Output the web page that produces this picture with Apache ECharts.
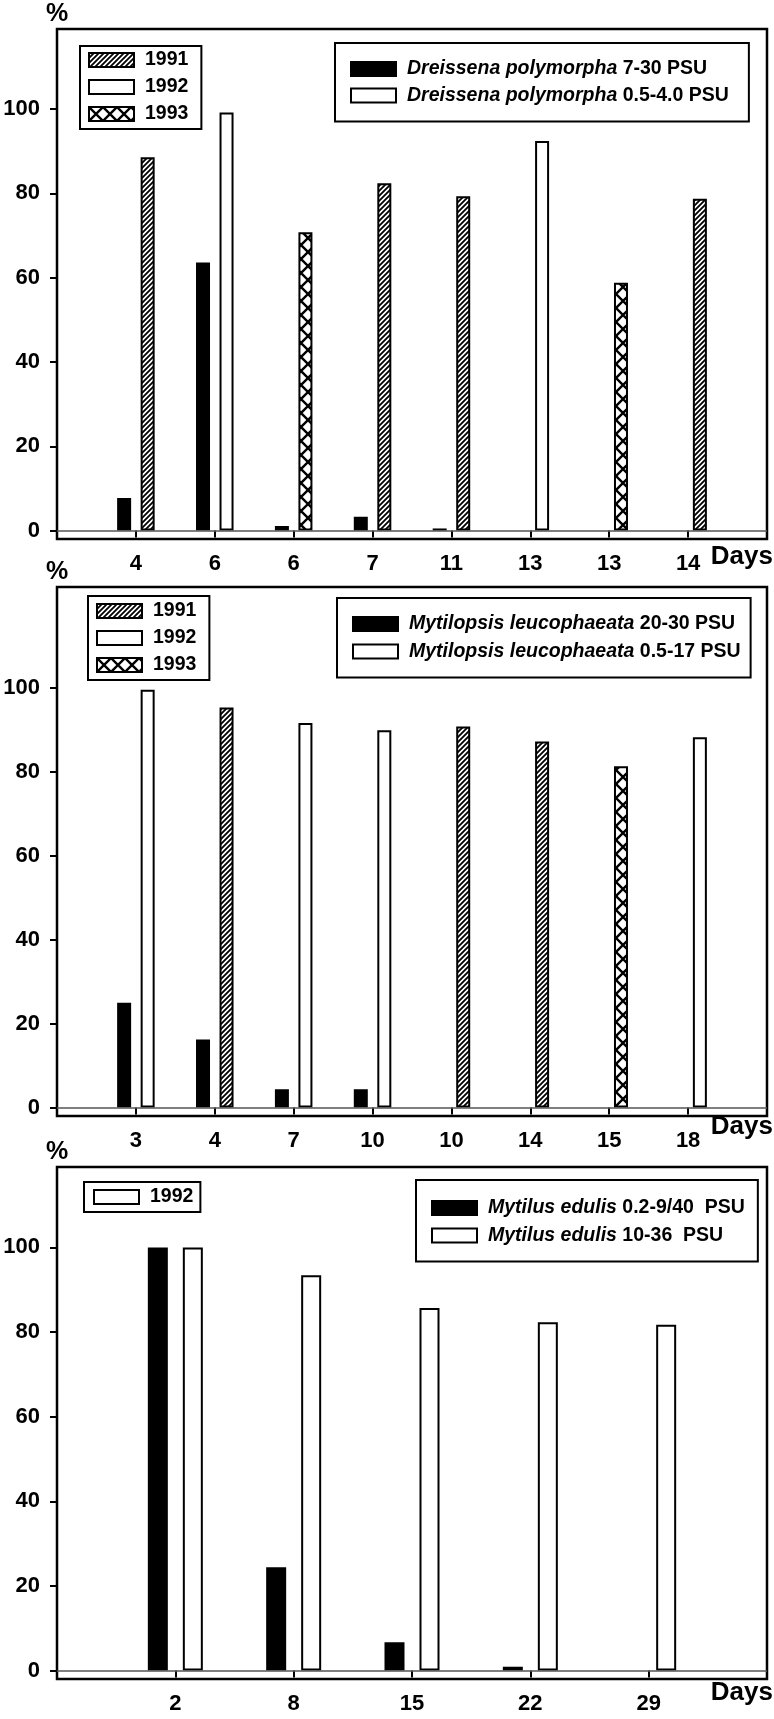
<!DOCTYPE html>
<html>
<head>
<meta charset="utf-8">
<script src="https://cdn.jsdelivr.net/npm/echarts@6/dist/echarts.min.js"></script>
<style>
  html, body { margin: 0; padding: 0; background: #fff; }
  #main { width: 774px; height: 1719px; }
</style>
</head>
<body>
<div id="main"></div>
<script>
// panel 1 - Dreissena polymorpha
const days1 = ['4', '6', '6', '7', '11', '13', '13', '14'];
const black1 = [7.7, 63.6, 1.1, 3.3, 0.5, null, null, null];
const other1 = [88.6, 99.2, 70.8, 82.4, 79.3, 92.4, 58.8, 78.7];
const year1 = ['1991', '1992', '1993', '1991', '1991', '1992', '1993', '1991'];

// panel 2 - Mytilopsis leucophaeata
const days2 = ['3', '4', '7', '10', '10', '14', '15', '18'];
const black2 = [25, 16.2, 4.4, 4.4, null, null, null, null];
const other2 = [99.5, 95.3, 91.6, 89.9, 90.8, 87.2, 81.3, 88.2];
const year2 = ['1992', '1991', '1992', '1992', '1991', '1991', '1993', '1992'];

// panel 3 - Mytilus edulis
const days3 = ['2', '8', '15', '22', '29'];
const black3 = [100, 24.4, 6.7, 0.9, null];
const other3 = [100, 93.4, 85.7, 82.3, 81.7];
const year3 = ['1992', '1992', '1992', '1992', '1992'];

const yTicks = [0, 20, 40, 60, 80, 100];
const FONT = "'Liberation Sans', Arial, Helvetica, sans-serif";

// axis text in the original is a condensed bold face; use it if the box has one
function textWidth(font) {
  const g = document.createElement('canvas').getContext('2d');
  g.font = font;
  return g.measureText('100 Days').width;
}
const hasNarrow = textWidth("bold 50px 'Liberation Sans Narrow', monospace") !== textWidth('bold 50px monospace');
const AXIS_FONT = hasNarrow ? "'Liberation Sans Narrow', 'Liberation Sans', sans-serif" : FONT;
const tickSize = hasNarrow ? 25 : 22;
const daysSize = hasNarrow ? 30 : 26;

function hatch() {
  const p = 5;
  const c = document.createElement('canvas');
  c.width = p; c.height = p;
  const g = c.getContext('2d');
  g.fillStyle = '#fff';
  g.fillRect(0, 0, p, p);
  g.strokeStyle = '#000';
  g.lineWidth = 1.8;
  g.beginPath();
  g.moveTo(-1, p + 1); g.lineTo(p + 1, -1);
  g.moveTo(-1, 1); g.lineTo(1, -1);
  g.moveTo(p - 1, p + 1); g.lineTo(p + 1, p - 1);
  g.stroke();
  return c;
}

function cross() {
  const p = 14;
  const c = document.createElement('canvas');
  c.width = p; c.height = p;
  const g = c.getContext('2d');
  g.fillStyle = '#fff';
  g.fillRect(0, 0, p, p);
  g.strokeStyle = '#000';
  g.lineWidth = 2.4;
  g.beginPath();
  g.moveTo(-1, -1); g.lineTo(p + 1, p + 1);
  g.moveTo(-1, p + 1); g.lineTo(p + 1, -1);
  g.stroke();
  return c;
}

const yearFill = {
  '1991': { image: hatch(), repeat: 'repeat' },
  '1992': '#fff',
  '1993': { image: cross(), repeat: 'repeat' }
};

const pad = arr => [null, ...arr, null];
const border = { borderColor: '#000', borderWidth: 2 };

function panelSeries(k, black, other, years, blackName, whiteName, bw, gap) {
  const list = [{
    name: blackName,
    type: 'bar',
    xAxisIndex: k,
    yAxisIndex: k,
    barWidth: bw,
    barGap: gap,
    data: pad(black),
    itemStyle: Object.assign({ color: '#000' }, border),
    markLine: {
      silent: true,
      symbol: 'none',
      label: { show: false },
      lineStyle: { color: '#555', width: 1.5, type: 'solid' },
      data: [{ yAxis: 0 }]
    }
  }];
  ['1991', '1992', '1993'].forEach(y => {
    if (years.indexOf(y) < 0) return;
    list.push({
      name: y,
      type: 'bar',
      xAxisIndex: k,
      yAxisIndex: k,
      stack: 'r' + k,
      barWidth: bw,
      barGap: gap,
      data: pad(other.map((v, i) => (years[i] === y ? v : null))),
      itemStyle: Object.assign({ color: yearFill[y] }, border)
    });
  });
  // legend entry only
  list.push({
    name: whiteName,
    type: 'bar',
    xAxisIndex: k,
    yAxisIndex: k,
    stack: 'r' + k,
    barWidth: bw,
    barGap: gap,
    data: [],
    itemStyle: Object.assign({ color: '#fff' }, border)
  });
  return list;
}

function xAxis(k, days, namePad) {
  return {
    gridIndex: k,
    type: 'category',
    data: pad(days).map(d => d || ''),
    boundaryGap: false,
    axisLine: { show: false },
    axisTick: {
      show: true,
      length: 7,
      interval: i => i > 0 && i <= days.length,
      lineStyle: { color: '#000', width: 2 }
    },
    axisLabel: {
      interval: 0,
      margin: 14,
      color: '#000',
      fontSize: tickSize,
      fontWeight: 'bold',
      fontFamily: AXIS_FONT
    },
    splitLine: { show: false },
    name: 'Days',
    nameLocation: 'end',
    nameGap: 6,
    nameTextStyle: {
      align: 'right',
      verticalAlign: 'top',
      padding: [namePad, 0, 0, 0],
      color: '#000',
      fontSize: daysSize,
      fontWeight: 'bold',
      fontFamily: AXIS_FONT
    }
  };
}

function yAxis(k, max) {
  return {
    gridIndex: k,
    type: 'value',
    min: -2,
    max: max,
    axisLine: { show: false },
    axisTick: {
      show: true,
      length: 7,
      customValues: yTicks,
      lineStyle: { color: '#000', width: 2 }
    },
    axisLabel: {
      customValues: yTicks,
      margin: 17,
      color: '#000',
      fontSize: tickSize,
      fontWeight: 'bold',
      fontFamily: AXIS_FONT
    },
    splitLine: { show: false },
    name: '%',
    nameLocation: 'end',
    nameGap: 15,
    nameTextStyle: {
      align: 'center',
      verticalAlign: 'middle',
      color: '#000',
      fontSize: 25,
      fontWeight: 'bold',
      fontFamily: FONT
    }
  };
}

const legendBase = {
  orient: 'vertical',
  icon: 'rect',
  itemWidth: 45,
  itemHeight: 14,
  itemGap: 7,
  borderColor: '#000',
  borderWidth: 2,
  backgroundColor: '#fff',
  selectedMode: false,
  itemStyle: { borderColor: '#000', borderWidth: 2 },
  textStyle: {
    color: '#000',
    fontSize: 19.5,
    fontWeight: 'bold',
    fontFamily: FONT,
    padding: [0, 0, 0, 6],
    rich: {
      i: { fontStyle: 'italic', fontWeight: 'bold', fontSize: 19.5, fontFamily: FONT, color: '#000' }
    }
  },
  formatter: name => {
    const p = name.split(' ');
    if (p.length < 3) return name;
    return '{i|' + p[0] + ' ' + p[1] + '} ' + p.slice(2).join(' ');
  }
};

function legend(data, left, top, padding, gap) {
  return Object.assign({}, legendBase, { data, left, top, padding, itemGap: gap || 7 });
}

const sp1a = 'Dreissena polymorpha 7-30 PSU';
const sp1b = 'Dreissena polymorpha 0.5-4.0 PSU';
const sp2a = 'Mytilopsis leucophaeata 20-30 PSU';
const sp2b = 'Mytilopsis leucophaeata 0.5-17 PSU';
const sp3a = 'Mytilus edulis 0.2-9/40  PSU';
const sp3b = 'Mytilus edulis 10-36  PSU';

const chart = echarts.init(document.getElementById('main'));
chart.setOption({
  animation: false,
  backgroundColor: '#fff',
  grid: [
    { left: 57, right: 7, top: 29, height: 510, show: true, borderColor: '#000', borderWidth: 2.5 },
    { left: 57, right: 7, top: 587, height: 529, show: true, borderColor: '#000', borderWidth: 2.5 },
    { left: 57, right: 7, top: 1167, height: 512, show: true, borderColor: '#000', borderWidth: 2.5 }
  ],
  xAxis: [xAxis(0, days1, 13), xAxis(1, days2, 6), xAxis(2, days3, 9)],
  yAxis: [yAxis(0, 119), yAxis(1, 124), yAxis(2, 119)],
  legend: [
    legend(['1991', '1992', '1993'], 80, 46, [4, 13, 5, 8]),
    legend([sp1a, sp1b], 335, 43, [16, 20, 16, 15], 6.5),
    legend(['1991', '1992', '1993'], 88, 596, [5, 13, 5, 8]),
    legend([sp2a, sp2b], 337, 598, [16, 10, 16, 15], 7.5),
    legend(['1992'], 84, 1182, [5, 7, 5, 9]),
    legend([sp3a, sp3b], 416, 1180, [18, 13, 16, 15], 7.5)
  ],
  series: [].concat(
    panelSeries(0, black1, other1, year1, sp1a, sp1b, 14, '68%'),
    panelSeries(1, black2, other2, year2, sp2a, sp2b, 14, '68%'),
    panelSeries(2, black3, other3, year3, sp3a, sp3b, 20, '75%')
  )
});
</script>
</body>
</html>
